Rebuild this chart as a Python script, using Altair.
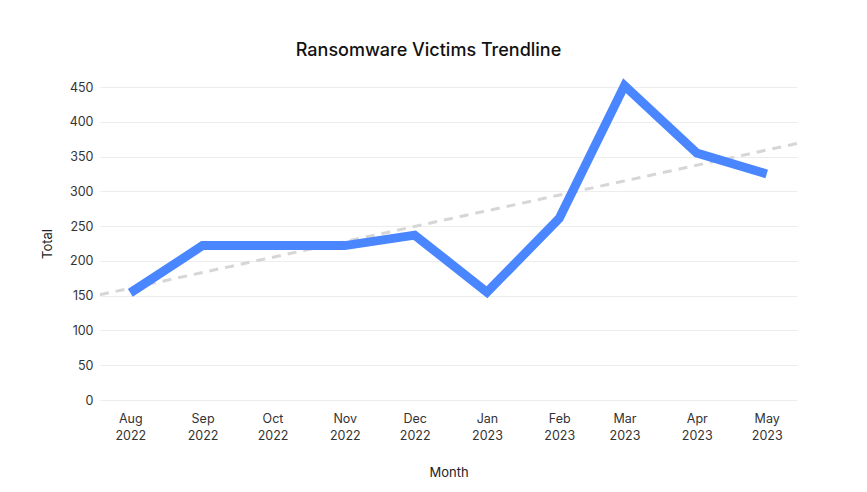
import altair as alt
import pandas as pd

months = ["2022-08-01", "2022-09-01", "2022-10-01", "2022-11-01", "2022-12-01",
          "2023-01-01", "2023-02-01", "2023-03-01", "2023-04-01", "2023-05-01"]
totals = [154, 222, 222, 222, 237, 155, 261, 452, 355, 325]
y_ticks = [0, 50, 100, 150, 200, 250, 300, 350, 400, 450]

x_start = int(pd.Timestamp("2022-07-19").value // 10**6)
x_end = int(pd.Timestamp("2023-05-14").value // 10**6)

df = pd.DataFrame({"month": months, "total": totals})

FONT = "Inter"

base = alt.Chart(df).transform_calculate(t="time(datum.month)")

x_enc = alt.X(
    "t:T",
    title="Month",
    scale=alt.Scale(type="utc", domain=[x_start, x_end], nice=False),
    axis=alt.Axis(
        tickCount={"interval": "month", "step": 1},
        labelExpr="[utcFormat(datum.value, '%b'), utcFormat(datum.value, '%Y')]",
        grid=False, domain=False, ticks=False, labelPadding=12,
        labelFontSize=12.5, labelColor="#333333", labelFont=FONT,
        titleFont=FONT, titleFontSize=13, titleFontWeight="normal",
        titleColor="#222222", titlePadding=25, labelLineHeight=17,
    ),
)
y_enc = alt.Y(
    "total:Q",
    title="Total",
    scale=alt.Scale(domain=[0, 450], nice=False),
    axis=alt.Axis(
        values=y_ticks, labelOverlap=False,
        grid=True, gridColor="#ededed", domain=False, ticks=False,
        labelPadding=7, labelFontSize=12.5, labelColor="#333333", labelFont=FONT,
        titleFont=FONT, titleFontSize=13, titleFontWeight="normal",
        titleColor="#222222", titlePadding=15,
    ),
)

line = base.mark_line(color="#4a86ff", strokeWidth=9, strokeJoin="miter").encode(x=x_enc, y=y_enc)

trend = base.transform_regression(
    "t", "total", extent=[x_start, x_end]
).mark_line(color="#d6d6d6", strokeWidth=3, strokeDash=[9, 7]).encode(
    x=x_enc, y=y_enc
)

chart = alt.layer(trend, line).properties(
    width=697,
    height=313,
    background="white",
    autosize=alt.AutoSizeParams(type="none"),
    padding={"left": 92, "top": 79, "right": 62, "bottom": 92},
    title=alt.TitleParams(
        "Ransomware Victims Trendline", font=FONT, fontSize=18, fontWeight=500,
        color="#111111", anchor="middle", dx=-20, offset=8,
    ),
).configure_view(strokeWidth=0)

chart.save("out.html", embed_options={"renderer": "svg", "actions": False})
